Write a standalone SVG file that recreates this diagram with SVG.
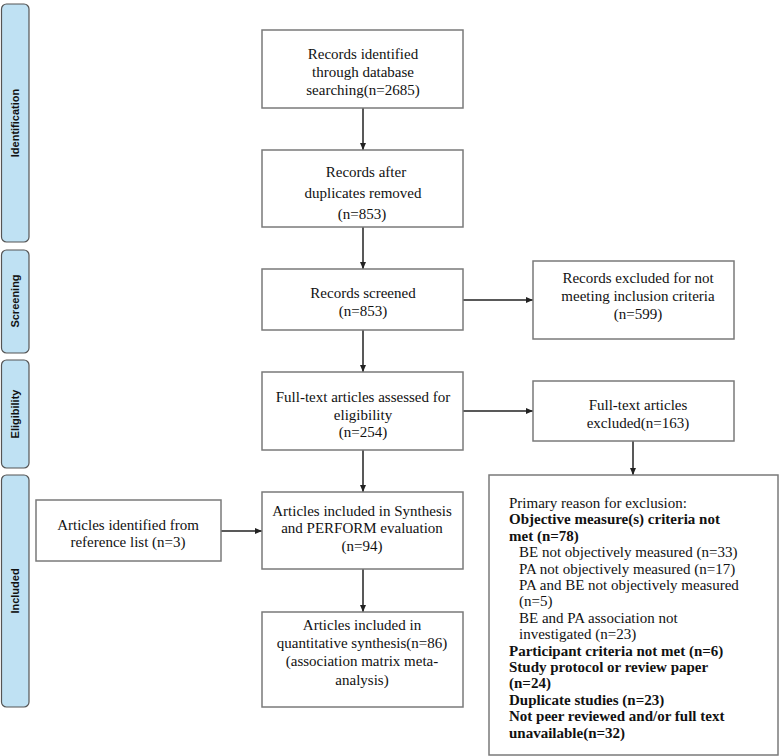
<svg xmlns="http://www.w3.org/2000/svg" width="780" height="756" viewBox="0 0 780 756">
<defs>
<marker id="ah" markerWidth="8" markerHeight="8" refX="7" refY="4" orient="auto" markerUnits="userSpaceOnUse">
<path d="M0,1 L7,4 L0,7 Z" fill="#222"/>
</marker>
<style>
.box{fill:#fff;stroke:#7a7a7a;stroke-width:1.5}
.side{fill:#bfe1f3;stroke:#555;stroke-width:1.2}
.t{font-family:"Liberation Serif",serif;font-size:15px;fill:#111;text-anchor:middle}
.l{font-family:"Liberation Serif",serif;font-size:15px;fill:#111}
.b{font-weight:bold}
.s{font-family:"Liberation Sans",sans-serif;font-size:11px;font-weight:bold;fill:#111;text-anchor:middle}
.c{stroke:#222;stroke-width:1.5;fill:none;marker-end:url(#ah)}
</style>
</defs>
<rect width="780" height="756" fill="#fff"/>
<g id="phase-identification"><rect class="side" x="1.5" y="4" width="27.5" height="238" rx="5"/><text class="s" transform="translate(19,123) rotate(-90)">Identification</text></g>
<g id="phase-screening"><rect class="side" x="1.5" y="250" width="27.5" height="103" rx="5"/><text class="s" transform="translate(19,301) rotate(-90)">Screening</text></g>
<g id="phase-eligibility"><rect class="side" x="1.5" y="360" width="27.5" height="108" rx="5"/><text class="s" transform="translate(19,414) rotate(-90)">Eligibility</text></g>
<g id="phase-included"><rect class="side" x="1.5" y="475" width="27.5" height="232" rx="5"/><text class="s" transform="translate(19,591) rotate(-90)">Included</text></g>

<g id="connectors">
<line class="c" x1="363" y1="108" x2="363" y2="150"/>
<line class="c" x1="363" y1="227" x2="363" y2="269"/>
<line class="c" x1="463" y1="300" x2="533" y2="300"/>
<line class="c" x1="363" y1="330" x2="363" y2="372"/>
<line class="c" x1="463" y1="411" x2="533" y2="411"/>
<line class="c" x1="363" y1="450" x2="363" y2="492"/>
<line class="c" x1="221" y1="531" x2="262" y2="531"/>
<line class="c" x1="363" y1="569" x2="363" y2="612"/>
<line class="c" x1="633" y1="441" x2="633" y2="475"/>
</g>

<g id="n1"><rect class="box" x="262" y="30" width="201" height="78"/>
<text class="t" x="363" y="59">Records identified</text><text class="t" x="363" y="77">through database</text><text class="t" x="363" y="95">searching(n=2685)</text></g>
<g id="n2"><rect class="box" x="262" y="150" width="201" height="77"/>
<text class="t" x="366" y="177">Records after</text><text class="t" x="363" y="198">duplicates removed</text><text class="t" x="362" y="219">(n=853)</text></g>
<g id="n3"><rect class="box" x="262" y="269" width="201" height="61"/>
<text class="t" x="363" y="298">Records screened</text><text class="t" x="363" y="316">(n=853)</text></g>
<g id="n4"><rect class="box" x="533" y="261" width="201" height="78"/>
<text class="t" x="638" y="283">Records excluded for not</text><text class="t" x="638" y="301">meeting inclusion criteria</text><text class="t" x="638" y="319">(n=599)</text></g>
<g id="n5"><rect class="box" x="262" y="372" width="201" height="78"/>
<text class="t" x="363" y="402">Full-text articles assessed for</text><text class="t" x="363" y="420">eligibility</text><text class="t" x="363" y="437">(n=254)</text></g>
<g id="n6"><rect class="box" x="533" y="381" width="201" height="60"/>
<text class="t" x="638" y="410">Full-text articles</text><text class="t" x="638" y="428">excluded(n=163)</text></g>
<g id="n7"><rect class="box" x="36" y="500" width="185" height="61"/>
<text class="t" x="128" y="530">Articles identified from</text><text class="t" x="128" y="547">reference list (n=3)</text></g>
<g id="n8"><rect class="box" x="262" y="492" width="201" height="77"/>
<text class="t" x="362" y="516">Articles included in Synthesis</text><text class="t" x="362" y="533">and PERFORM evaluation</text><text class="t" x="362" y="551">(n=94)</text></g>
<g id="n9"><rect class="box" x="262" y="612" width="201" height="95"/>
<text class="t" x="362" y="630">Articles included in</text><text class="t" x="362" y="648">quantitative synthesis(n=86)</text><text class="t" x="362" y="666">(association matrix meta-</text><text class="t" x="362" y="685">analysis)</text></g>
<g id="n10"><rect class="box" x="489" y="475" width="289" height="280"/>
<text class="l" x="509" y="508">Primary reason for exclusion:</text>
<text class="l b" x="509" y="524.4">Objective measure(s) criteria not</text>
<text class="l b" x="509" y="540.8">met (n=78)</text>
<text class="l" x="519" y="557.2">BE not objectively measured (n=33)</text>
<text class="l" x="519" y="573.6">PA not objectively measured (n=17)</text>
<text class="l" x="519" y="590">PA and BE not objectively measured</text>
<text class="l" x="519" y="606.4">(n=5)</text>
<text class="l" x="519" y="622.8">BE and PA association not</text>
<text class="l" x="519" y="639.2">investigated (n=23)</text>
<text class="l b" x="509" y="655.6">Participant criteria not met (n=6)</text>
<text class="l b" x="509" y="672">Study protocol or review paper</text>
<text class="l b" x="509" y="688.4">(n=24)</text>
<text class="l b" x="509" y="704.8">Duplicate studies (n=23)</text>
<text class="l b" x="509" y="721.2">Not peer reviewed and/or full text</text>
<text class="l b" x="509" y="737.6">unavailable(n=32)</text>
</g>
</svg>
